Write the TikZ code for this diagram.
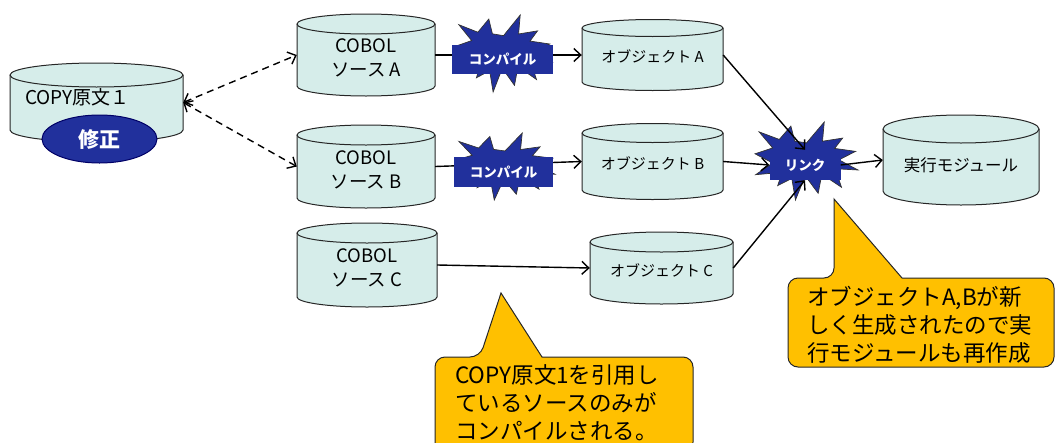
\documentclass[tikz,border=0pt]{standalone}
\usepackage{fontspec}
\setmainfont{Noto Sans CJK JP}
\usetikzlibrary{arrows.meta,shapes.geometric}

\definecolor{drumfill}{RGB}{214,237,234}
\definecolor{boomblue}{RGB}{33,48,156}
\definecolor{noteyellow}{RGB}{255,192,0}

\newcommand\srcfont{\fontsize{18.5}{24}\selectfont}
\newcommand\objfont{\fontsize{15}{18}\selectfont}
\newcommand\execfont{\fontsize{16.5}{20}\selectfont}

\tikzset{
  drumbody/.style={fill=drumfill, draw=black!85, line width=1pt},
  drumtext/.style={inner sep=0pt},
  flow/.style={-{Straight Barb[length=7pt,width=13pt]}, line width=1.4pt},
  refer/.style={{Straight Barb[length=7pt,width=13pt]}-{Straight Barb[length=7pt,width=13pt]},
    line width=1.4pt, dash pattern=on 7pt off 5pt},
  boomlabel/.style={fill=boomblue, text=white, inner sep=0pt,
    font=\bfseries\fontsize{13.5}{16}\selectfont},
  fixmark/.style={ellipse, fill=boomblue, draw=black!60!blue, line width=1pt,
    minimum width=115, minimum height=48, inner sep=0pt, text=white,
    font=\bfseries\fontsize{21}{24}\selectfont},
  note/.style={fill=noteyellow, draw=black!85, line width=1pt},
  notetext/.style={anchor=north west, inner sep=0pt, align=left,
    font=\fontsize{22.5}{28}\selectfont},
  boom/.pic={
    \filldraw[fill=boomblue, draw=black!80, line width=0.7pt]
      (108,58) -- (145.22,0) -- (141.55,53.25) -- (183.8,44.57) -- (167.02,73.15)
      -- (210.97,81.37) -- (176.07,104.75) -- (216,132.9) -- (168.37,129.42)
      -- (181.45,180.95) -- (140.2,144.57) -- (132.47,197.37) -- (105.32,149.35)
      -- (84.85,216) -- (77.15,156.27) -- (47.62,176.17) -- (56.67,139.37)
      -- (1.35,145.87) -- (37.22,113.6) -- (0,88.12) -- (37.06,71.77)
      -- (8.52,27.25) -- (50.93,48.3) -- (75.23,11.33) -- (83.32,52.8) -- cycle;
  }
}

% name, cx, top, bottom, half width, ry, font, text
\newcommand\drum[8]{%
  \path[drumbody] (#2-#5,#3) -- (#2-#5,#4)
    arc[start angle=180,end angle=0,x radius=#5,y radius=#6] -- (#2+#5,#3)
    arc[start angle=0,end angle=-180,x radius=#5,y radius=#6] -- cycle;
  \draw[drumbody, fill=none] (#2-#5,#3)
    arc[start angle=180,end angle=0,x radius=#5,y radius=#6];
  \node[drumtext, minimum width={2*#5}, minimum height={#4-#3}] (#1) at (#2,{(#3+#4)/2})
    {\raisebox{-0.5\dimexpr#6pt\relax}[\height][\depth]{#7\begin{tabular}{@{}c@{}}#8\end{tabular}}};
}

\begin{document}
\begin{tikzpicture}[x=1pt,y=-1pt]
  \useasboundingbox (0,0) rectangle (1057,442);

  \drum{copy}{96.5}{75}{130}{86.5}{12}{}{}
  \drum{srcA}{366}{24}{86}{69}{10}{\srcfont}{COBOL\\ソース A}
  \drum{srcB}{366}{135}{198}{69}{10}{\srcfont}{COBOL\\ソース B}
  \drum{srcC}{367}{233}{297}{70}{10}{\srcfont}{COBOL\\ソース C}
  \drum{objA}{652.5}{28}{82}{70.5}{8.5}{\objfont}{オブジェクト A}
  \drum{objB}{652.5}{133}{190}{70.5}{9.5}{\objfont}{オブジェクト B}
  \drum{objC}{661.5}{242}{294}{71.5}{10}{\objfont}{オブジェクト C}
  \drum{exec}{961}{129}{191}{78}{14}{\execfont}{実行モジュール}

  \node[anchor=west, inner sep=0pt, font=\fontsize{19}{22}\selectfont] (copytxt) at (25,97) {COPY原文１};
  \node[fixmark] (fix) at (99.5,139) {修正};

  % copy -> sources
  \draw[refer] (copy.east) -- (srcA.west);
  \draw[refer] (copy.east) -- (srcB.west);

  % compile
  \draw[flow] (srcA.east) -- (objA.west);
  \draw[flow] (srcB.east) -- (objB.west);
  \draw[flow] (srcC.east) -- (objC.west);

  \pic[xscale=97/216, yscale=77/216] at (455,15) {boom};
  \node[boomlabel, minimum width=101, minimum height=29] (compA) at (502.5,59.5) {コンパイル};
  \pic[xscale=100/216, yscale=67/216] at (455,133) {boom};
  \node[boomlabel, minimum width=99, minimum height=30] (compB) at (503.5,172) {コンパイル};

  % link
  \pic[xscale=103/216, yscale=78/216] at (755,122) {boom};
  \node[boomlabel, minimum width=71, minimum height=30] (link) at (805,165) {リンク};

  \draw[flow] (objA.east) -- (link.north);
  \draw[flow] (objB.east) -- (link.west);
  \draw[flow] (objC.east) -- (link.south);
  \draw[flow] (link.east) -- (exec.west);

  % notes
  \draw[note, rounded corners=10pt] (435,400) -- (435,357) -- (480,357) [sharp corners] -- (501,293)
    -- (542,357) [rounded corners=10pt] -- (693,357) -- (693,452) -- (435,452) -- cycle;
  \node[notetext] (note1) at (455,364) {COPY原文1を引用し\\ているソースのみが\\コンパイルされる。};

  \draw[note, rounded corners=10pt] (788,320) -- (788,278) -- (834,278) [sharp corners] -- (834,199)
    -- (902,278) [rounded corners=10pt] -- (1054,278) -- (1054,367) -- (788,367) -- cycle;
  \node[notetext] (note2) at (807,286) {オブジェクトA,Bが新\\しく生成されたので実\\行モジュールも再作成};
\end{tikzpicture}
\end{document}
